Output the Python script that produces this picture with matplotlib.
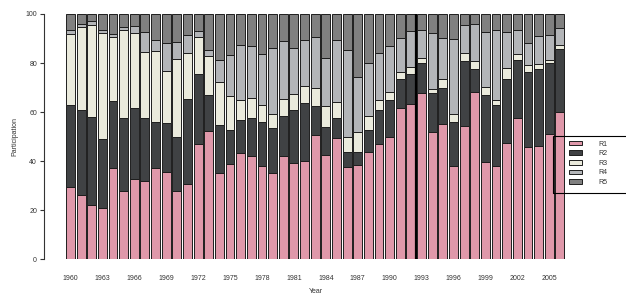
import matplotlib
matplotlib.use("Agg")
import matplotlib.pyplot as plt
import numpy as np
from matplotlib.patches import Patch, Rectangle

years = list(range(1960, 2007))
R1 = [29.5, 26.2, 22.2, 21.1, 37.4, 27.9, 32.8, 31.8, 37.1, 35.4, 27.9, 30.9, 46.9, 52.2, 35.0, 39.0,
      43.4, 42.3, 38.2, 35.0, 42.0, 39.3, 40.1, 50.8, 42.5, 49.5, 37.7, 38.5, 43.9, 47.0, 50.0, 61.8,
      63.3, 67.8, 51.8, 55.1, 37.9, 54.5, 68.3, 39.7, 38.2, 47.4, 57.7, 45.8, 46.2, 51.2, 59.9]
R2 = [33.4, 34.5, 35.8, 28.0, 27.0, 29.6, 28.7, 25.9, 19.0, 20.2, 22.0, 34.5, 28.7, 14.9, 19.7, 13.8,
      13.5, 15.4, 17.6, 18.4, 16.5, 21.4, 23.5, 11.7, 11.6, 8.2, 6.2, 5.4, 8.7, 14.0, 14.9, 11.6,
      12.3, 12.4, 16.1, 14.8, 17.9, 26.3, 9.3, 27.1, 24.7, 26.3, 23.6, 30.4, 31.3, 28.7, 26.0]
R3 = [29.0, 33.9, 37.7, 43.2, 26.4, 36.0, 30.9, 26.7, 29.0, 21.2, 31.8, 18.6, 15.2, 15.6, 17.4, 13.9,
      7.9, 8.0, 7.1, 5.9, 6.8, 6.6, 6.9, 7.3, 8.2, 6.3, 5.8, 7.9, 5.9, 3.8, 3.5, 2.9,
      2.7, 1.9, 1.5, 3.5, 3.5, 3.3, 3.2, 3.4, 2.1, 4.2, 2.3, 3.1, 2.3, 1.4, 1.4]
R4 = [1.6, 1.4, 1.3, 1.3, 1.1, 1.4, 2.7, 8.1, 4.5, 11.3, 6.8, 7.6, 2.4, 2.7, 9.2, 16.6,
      22.6, 21.2, 20.6, 26.9, 23.6, 19.0, 18.8, 20.7, 19.8, 25.4, 35.7, 22.6, 21.6, 19.5, 18.6, 13.9,
      14.9, 11.4, 22.9, 17.0, 30.5, 11.4, 15.1, 22.5, 28.5, 14.8, 9.9, 8.8, 11.1, 10.3, 7.0]
R5 = [6.5, 4.0, 3.0, 6.4, 8.1, 5.1, 4.9, 7.5, 10.4, 11.9, 11.5, 8.4, 6.8, 14.6, 18.7, 16.7,
      12.6, 13.1, 16.5, 13.8, 11.1, 13.7, 10.7, 9.5, 17.9, 10.6, 14.6, 25.6, 19.9, 15.7, 13.0, 9.8,
      6.8, 6.5, 7.7, 9.6, 10.2, 4.5, 4.1, 7.3, 6.5, 7.3, 6.5, 11.9, 9.1, 8.4, 5.7]
series = [R1, R2, R3, R4, R5]
labels = ["R1", "R2", "R3", "R4", "R5"]
colors = ["#DF98AA", "#404244", "#EAEADC", "#B3B5B8", "#808080"]
label_years = years[::3]

plt.rcParams['font.family'] = ['Liberation Sans', 'DejaVu Sans']
txt = "#333333"
W, H = 626, 296
fig = plt.figure(figsize=(W / 100, H / 100), dpi=100)

# axes placement in pixels
L, R, B, T = 44, 580, 259.3, 14
ax = fig.add_axes([L / W, 1 - B / H, (R - L) / W, (B - T) / H])

x = np.arange(len(years))
bottom = np.zeros(len(years))
for vals, c, lab in zip(series, colors, labels):
    v = np.array(vals)
    ax.bar(x, v, bottom=bottom, width=0.835, color=c, edgecolor="#1e1e1e",
           linewidth=0.7, label=lab)
    bottom += v

# dark separator line between 1992 and 1993
ax.axvline(years.index(1992) + 0.5, ymin=0, ymax=1, color="black", lw=1.6)

step = 10.64
ax.set_xlim((L - 70.45) / step, (R - 70.45) / step)
ax.set_ylim(0, 100)

for s in ["top", "right", "bottom"]:
    ax.spines[s].set_visible(False)
ax.spines["left"].set_color(txt)
ax.spines["left"].set_linewidth(0.8)
ax.set_yticks([0, 20, 40, 60, 80, 100])
ax.tick_params(axis="y", direction="out", length=3, width=0.8, colors=txt,
               labelsize=5, pad=2)
ax.set_xticks([years.index(y) for y in label_years])
ax.set_xticklabels([str(y) for y in label_years])
ax.tick_params(axis="x", length=0, labelsize=5, colors=txt, pad=11)

fig.text(15 / W, 1 - 137 / H, "Participation", rotation=90, ha="center",
         va="center", fontsize=5, color=txt)
fig.text(316 / W, 1 - 288 / H, "Year", ha="center", va="top", fontsize=5,
         color=txt)

# legend
handles = [Patch(facecolor=c, edgecolor="#1e1e1e", linewidth=0.7) for c in colors]
fig.add_artist(Rectangle((553 / W, 1 - 192.7 / H), 100 / W, 56.7 / H,
                         transform=fig.transFigure, fill=False,
                         edgecolor="black", linewidth=0.8))
leg = fig.legend(handles, labels, loc="upper left",
                 bbox_to_anchor=(569 / W, 1 - 140.5 / H), frameon=False,
                 borderpad=0, borderaxespad=0, fontsize=5, handlelength=1.9,
                 handleheight=0.62, handletextpad=2.4, labelspacing=0.38)
for t in leg.get_texts():
    t.set_color(txt)

fig.savefig("out.png", dpi=100)
